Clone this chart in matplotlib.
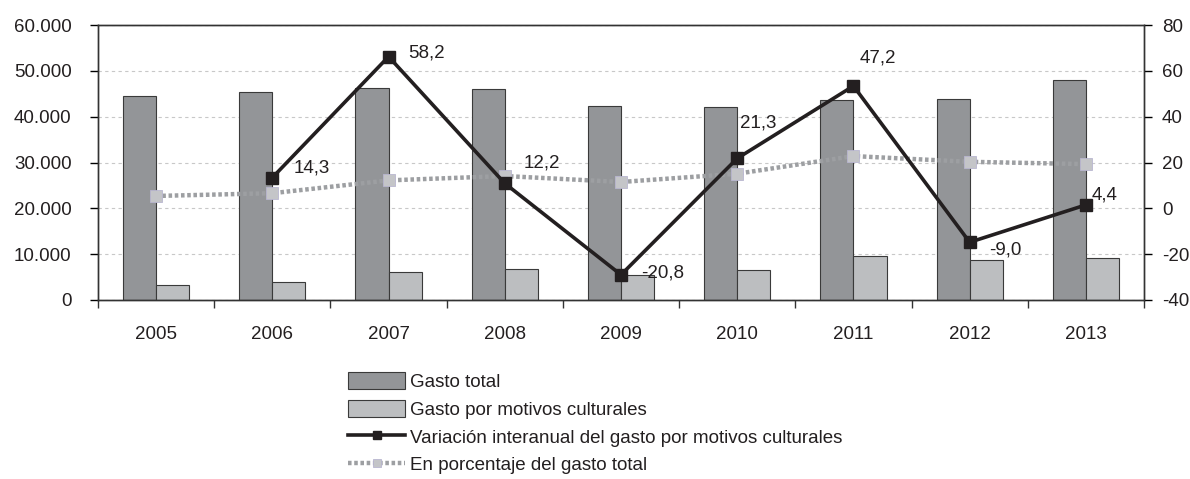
import matplotlib
matplotlib.use("Agg")
import matplotlib.pyplot as plt
import numpy as np
from matplotlib.ticker import FixedLocator

plt.rcParams['font.family'] = ['Liberation Sans', 'DejaVu Sans']

years = ["2005", "2006", "2007", "2008", "2009", "2010", "2011", "2012", "2013"]
gasto_total = [44440, 45300, 46330, 46030, 42400, 42040, 43640, 43930, 47930]
gasto_cultural = [3270, 3860, 6110, 6760, 5380, 6470, 9530, 8730, 9240]
# variacion interanual (posiciones) y sus etiquetas
variacion = [np.nan, 13.4, 66.2, 10.9, -29.0, 21.8, 53.4, -14.8, 1.5]
variacion_txt = ["", "14,3", "58,2", "12,2", "-20,8", "21,3", "47,2", "-9,0", "4,4"]
porcentaje = [5.4, 6.6, 12.2, 14.1, 11.5, 15.1, 22.8, 20.3, 19.3]

left_ticks = [0, 10000, 20000, 30000, 40000, 50000, 60000]
left_labels = ["0", "10.000", "20.000", "30.000", "40.000", "50.000", "60.000"]
right_ticks = [-40, -20, 0, 20, 40, 60, 80]
right_labels = ["-40", "-20", "0", "20", "40", "60", "80"]

label_offsets = [None, (21, 10), (20, 4), (19, 20), (20, 2), (3, 35), (6, 28), (19, -8), (6, 10)]

fs = 13.5
fig = plt.figure(figsize=(11.9, 4.79), dpi=100)
ax1 = fig.add_axes([98 / 1190, 1 - 300 / 479, 1046 / 1190, 275 / 479])
ax2 = ax1.twinx()

x = np.arange(len(years))
w = 0.285
b1 = ax1.bar(x - w / 2, gasto_total, w, color="#939598", edgecolor="#3a3a3a", linewidth=0.8,
             label="Gasto total", zorder=2)
b2 = ax1.bar(x + w / 2, gasto_cultural, w, color="#bcbec0", edgecolor="#3a3a3a", linewidth=0.8,
             label="Gasto por motivos culturales", zorder=2)

ax1.set_ylim(0, 60000)
ax1.set_xlim(-0.5, len(years) - 0.5)
ax1.yaxis.set_major_locator(FixedLocator(left_ticks))
ax1.set_yticklabels(left_labels)
ax1.set_xticks(x)
ax1.set_xticklabels(years)
ax1.xaxis.set_minor_locator(FixedLocator(np.arange(-0.5, len(years), 1.0)))
ax1.tick_params(axis="x", which="major", length=0, pad=19, labelsize=fs)
ax1.tick_params(axis="x", which="minor", length=6, width=1, direction="out", color="#333333")
ax1.tick_params(axis="y", length=6, width=1, direction="out", pad=13, labelsize=fs)
for t in ax1.get_xticklabels() + ax1.get_yticklabels():
    t.set_color("#231f20")
ax1.grid(axis="y", color="#c8c8c8", linestyle=(0, (3, 3)), linewidth=0.8, zorder=0)
ax1.set_axisbelow(True)

l1, = ax2.plot(x, variacion, color="#231f20", linewidth=2.6, marker="s", markersize=9,
               markerfacecolor="#231f20", markeredgecolor="#231f20",
               label="Variación interanual del gasto por motivos culturales", zorder=4)
l2, = ax2.plot(x, porcentaje, color="#9d9fa2", linewidth=3.2, linestyle=(0, (0.8, 0.6)),
               marker="s", markersize=9, markerfacecolor="#c4c5c8", markeredgecolor="#b9b6d0",
               markeredgewidth=0.6, label="En porcentaje del gasto total", zorder=3)
ax2.set_ylim(-40, 80)
ax2.yaxis.set_major_locator(FixedLocator(right_ticks))
ax2.set_yticklabels(right_labels)
ax2.tick_params(axis="y", length=6, width=1, direction="out", pad=7, labelsize=fs)
for t in ax2.get_yticklabels():
    t.set_color("#231f20")

for i, txt in enumerate(variacion_txt):
    if txt == "":
        continue
    dx, dy = label_offsets[i]
    ax2.annotate(txt, (x[i], variacion[i]), xytext=(dx, dy), textcoords="offset pixels",
                 ha="left", va="center", fontsize=fs, color="#231f20", zorder=5)

for ax in (ax1, ax2):
    for s in ax.spines.values():
        s.set_color("#333333")
        s.set_linewidth(1)

fig.legend([b1, b2, l1, l2],
           [b1.get_label(), b2.get_label(), l1.get_label(), l2.get_label()],
           loc="upper left", bbox_to_anchor=(348 / 1190, 1 - 372 / 479),
           frameon=False, fontsize=fs, handlelength=3.05, handleheight=1.05,
           handletextpad=0.25, labelspacing=0.46, borderpad=0, borderaxespad=0,
           markerscale=0.7, labelcolor="#231f20")

fig.savefig("out.png", dpi=100)
